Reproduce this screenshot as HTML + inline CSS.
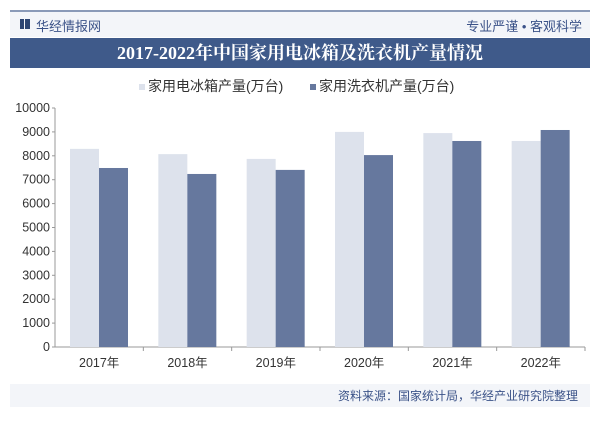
<!DOCTYPE html>
<html><head><meta charset="utf-8"><style>
body{margin:0;width:600px;height:424px;background:#fff;font-family:"Liberation Sans","Noto Sans CJK SC",sans-serif;overflow:hidden;position:relative}
.a{position:absolute}
</style></head><body>
<div class="a" style="left:10px;top:10px;width:580px;height:2px;background:#8a9ab8"></div>
<div class="a" style="left:10px;top:12px;width:580px;height:25px;background:#f3f5f9"></div>
<div class="a" style="left:20px;top:19px;width:4px;height:10px;background:#2c4472"></div>
<div class="a" style="left:25px;top:19px;width:5px;height:10px;background:#2c4472"></div>
<div class="a" style="left:36px;top:16px;font-size:13px;color:#3b5288">华经情报网</div>
<div class="a" style="right:18px;top:16px;font-size:13px;color:#3b5288">专业严谨 • 客观科学</div>
<div class="a" style="left:10px;top:38px;width:580px;height:30px;background:#3f5a8a;color:#fff;font-family:'Liberation Serif','Noto Serif CJK SC',serif;font-weight:bold;font-size:18px;text-align:center;line-height:30px">2017-2022年中国家用电冰箱及洗衣机产量情况</div>
<div class="a" style="left:139px;top:76px;font-size:14px;color:#333"><span style="display:inline-block;width:6px;height:6px;background:#dde2ec;margin-right:3px;vertical-align:middle"></span>家用电冰箱产量(万台)</div>
<div class="a" style="left:310px;top:76px;font-size:14px;color:#333"><span style="display:inline-block;width:6px;height:6px;background:#66789e;margin-right:3px;vertical-align:middle"></span>家用洗衣机产量(万台)</div>
<svg class="a" style="left:0;top:0" width="600" height="424" id="c"></svg>
<div class="a" style="left:10px;top:384px;width:580px;height:23px;background:#f3f5f9"></div>
<div class="a" style="right:22px;top:387px;font-size:12px;color:#3b5288">资料来源：国家统计局，华经产业研究院整理</div>
<script>
const categories=["2017年","2018年","2019年","2020年","2021年","2022年"];
const fridge=[8290,8070,7870,9000,8950,8620];
const washer=[7490,7240,7410,8030,8620,9080];
const ticks=[0,1000,2000,3000,4000,5000,6000,7000,8000,9000,10000];
const svg=document.getElementById('c');const NS='http://www.w3.org/2000/svg';
const x0=55,x1=585,y0=347,y1=108,band=(x1-x0)/categories.length;
const y=v=>y0-(v/10000)*(y0-y1);
function mk(t,a){const e=document.createElementNS(NS,t);for(const k in a)e.setAttribute(k,a[k]);svg.appendChild(e);return e;}
let ax=mk('line',{x1:x0,y1:y1,x2:x0,y2:y0,stroke:'#999'});


let bx=mk('line',{x1:x0,y1:y0,x2:x1,y2:y0,stroke:'#999'});


ticks.forEach(t=>{
 let tx=mk('text',{x:x0-5,y:y(t)+4,'text-anchor':'end','font-size':12.5,fill:'#333'});tx.textContent=t;
 
 
 mk('line',{x1:x0-3,y1:y(t),x2:x0,y2:y(t),stroke:'#999'});
});
categories.forEach((c,i)=>{
 const cx=x0+band*i;
 mk('line',{x1:cx+band,y1:y0,x2:cx+band,y2:y0+4,stroke:'#999'});
 let b1=mk('rect',{x:cx+15,y:y(fridge[i]),width:29,height:y0-y(fridge[i]),fill:'#dde2ec'});
 
 
 let b2=mk('rect',{x:cx+44,y:y(washer[i]),width:29,height:y0-y(washer[i]),fill:'#66789e'});
 
 
 let t=mk('text',{x:cx+band/2,y:y0+20,'text-anchor':'middle','font-size':12.5,fill:'#333'});t.textContent=c;
 
 
});
</script>
</body></html>
